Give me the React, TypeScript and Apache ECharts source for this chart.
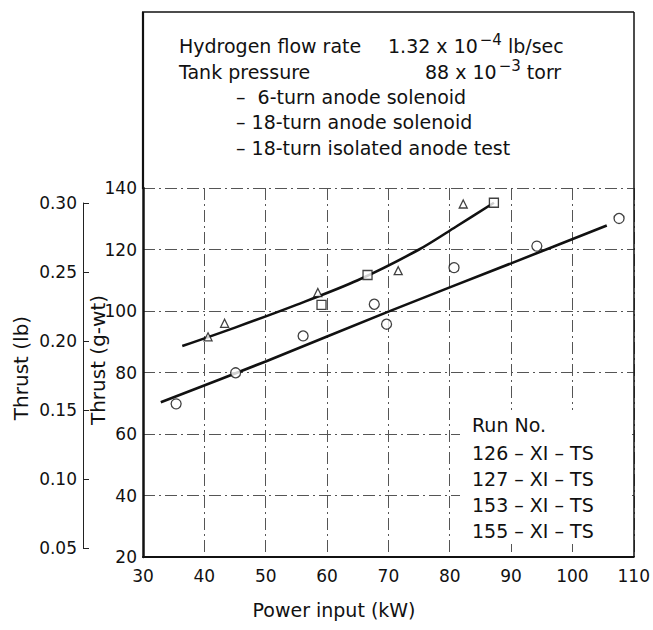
import React, { useEffect, useRef } from 'react';
import * as echarts from 'echarts';

// Axis tick values
const xTicksMin = 30;
const xTicksMax = 110;
const gwtMin = 20;
const gwtMax = 140;
const lbMin = 0.05;
const lbMax = 0.3;

// Measured points (power kW, thrust g-wt)
const circleX = [35.4, 45.1, 56.1, 67.7, 69.7, 80.7, 94.2, 107.6];
const circleY = [69.8, 79.9, 91.9, 102.2, 95.7, 114.1, 121.1, 130.1];
const triangleX = [40.6, 43.3, 58.5, 71.6, 82.2];
const triangleY = [91.6, 96.0, 106.0, 113.1, 134.8];
const squareX = [59.1, 66.6, 87.2];
const squareY = [102.0, 111.7, 135.2];

// Faired curves
const upperCurveX = [36.4, 45, 55, 65, 75, 81, 87.2];
const upperCurveY = [88.6, 94.6, 102.0, 110.0, 120.0, 127.4, 135.2];
const lowerCurveX = [32.9, 50, 70, 90, 105.6];
const lowerCurveY = [70.3, 83.6, 99.8, 115.5, 127.8];

const seriesNames = ['6-turn anode solenoid', '18-turn anode solenoid', '18-turn isolated anode test'];
const runNumbers = ['126 – XI – TS', '127 – XI – TS', '153 – XI – TS', '155 – XI – TS'];

const zip = (xs: number[], ys: number[]) => xs.map((x, i) => [x, ys[i]]);

export default function App() {
  const ref = useRef<HTMLDivElement>(null);
  useEffect(() => {
    document.body.style.margin = '0';
    const chart = echarts.init(ref.current!, null, { renderer: 'svg' });
    const font = 'DejaVu Sans';
    const ink = '#111';
    const noteSize = 19;
    const gridLine = { show: true, lineStyle: { color: '#555', width: 1, type: [12, 4, 2, 4] } };
    const txt = (x: number, y: number, text: string, size = noteSize, extra: any = {}) => ({
      type: 'text',
      x,
      y,
      z: 20,
      style: {
        text,
        fill: ink,
        font: `${size}px "${font}"`,
        fontFamily: font,
        fontSize: size,
        textVerticalAlign: 'middle',
        verticalAlign: 'middle',
        ...extra,
      },
    });
    const sup = {
      rich: {
        a: { fontFamily: font, fontSize: noteSize, lineHeight: 28, color: ink },
        s: { fontFamily: font, fontSize: 15, lineHeight: 15, verticalAlign: 'top', color: ink, padding: [0, 0, 0, 2] },
      },
    };
    chart.setOption({
      animation: false,
      backgroundColor: '#fff',
      textStyle: { fontFamily: font, color: ink },
      grid: [
        { left: 143, right: 19, top: 188, bottom: 73 },
        { left: 83, width: 10, top: 203, bottom: 82 },
      ],
      xAxis: [
        {
          gridIndex: 0,
          type: 'value',
          min: xTicksMin,
          max: xTicksMax,
          interval: 10,
          axisLine: { show: true, lineStyle: { color: ink, width: 2 } },
          axisTick: { show: false },
          splitLine: gridLine,
          axisLabel: { fontSize: 17, color: ink, margin: 10, fontFamily: font },
          z: 5,
        },
        { gridIndex: 1, type: 'value', show: false, min: 0, max: 1 },
      ],
      yAxis: [
        {
          gridIndex: 0,
          type: 'value',
          min: gwtMin,
          max: gwtMax,
          interval: 20,
          axisLine: { show: true, lineStyle: { color: ink, width: 2.5 } },
          axisTick: { show: false },
          splitLine: gridLine,
          axisLabel: { fontSize: 17, color: ink, margin: 6, fontFamily: font },
          z: 5,
        },
        {
          gridIndex: 1,
          type: 'value',
          min: lbMin,
          max: lbMax,
          interval: 0.05,
          axisLine: { show: true, lineStyle: { color: '#222', width: 1 } },
          axisTick: { show: true, inside: true, length: 6, lineStyle: { color: '#222' } },
          splitLine: { show: false },
          axisLabel: { fontSize: 17, color: ink, margin: 6, fontFamily: font, formatter: (v: number) => v.toFixed(2) },
        },
      ],
      series: [
        {
          name: 'upper fairing',
          type: 'line',
          data: zip(upperCurveX, upperCurveY),
          smooth: 0.3,
          showSymbol: false,
          lineStyle: { color: ink, width: 2.6 },
          silent: true,
          z: 30,
        },
        {
          name: 'lower fairing',
          type: 'line',
          data: zip(lowerCurveX, lowerCurveY),
          smooth: 0.3,
          showSymbol: false,
          lineStyle: { color: ink, width: 2.6 },
          silent: true,
          z: 30,
        },
        {
          name: seriesNames[0],
          type: 'scatter',
          data: zip(circleX, circleY),
          symbol: 'circle',
          symbolSize: 10,
          itemStyle: { color: '#fff', borderColor: ink, borderWidth: 1.3 },
          z: 31,
        },
        {
          name: seriesNames[1],
          type: 'scatter',
          data: zip(triangleX, triangleY),
          symbol: 'triangle',
          symbolSize: 8,
          itemStyle: { color: '#fff', borderColor: ink, borderWidth: 1.3 },
          z: 31,
        },
        {
          name: seriesNames[2],
          type: 'scatter',
          data: zip(squareX, squareY),
          symbol: 'rect',
          symbolSize: 9,
          itemStyle: { color: '#fff', borderColor: ink, borderWidth: 1.3 },
          z: 31,
        },
      ],
      graphic: [
        // frame above the data region
        { type: 'line', z: 20, shape: { x1: 143, y1: 12, x2: 143, y2: 189 }, style: { stroke: ink, lineWidth: 2.2 } },
        { type: 'line', z: 20, shape: { x1: 142, y1: 12, x2: 634, y2: 12 }, style: { stroke: ink, lineWidth: 1.5 } },
        { type: 'line', z: 20, shape: { x1: 634, y1: 12, x2: 634, y2: 557 }, style: { stroke: ink, lineWidth: 1.5 } },
        // cleared panel behind run numbers
        { type: 'rect', z: 15, shape: { x: 460, y: 410, width: 172, height: 134 }, style: { fill: '#fff' } },
        // axis titles
        { ...txt(21, 368, 'Thrust (lb)', 20, { textAlign: 'center', align: 'center' }), rotation: Math.PI / 2 },
        { ...txt(98, 360, 'Thrust (g-wt)', 20, { textAlign: 'center', align: 'center' }), rotation: Math.PI / 2 },
        txt(334, 610, 'Power input (kW)', 19, { textAlign: 'center', align: 'center' }),
        // condition notes
        txt(179, 46, 'Hydrogen flow rate'),
        txt(388, 46, '{a|1.32 x 10}{s|−4}{a| lb/sec}', noteSize, sup),
        txt(179, 72, 'Tank pressure'),
        txt(425, 72, '{a|88 x 10}{s|−3}{a| torr}', noteSize, sup),
        txt(236, 97, '–  ' + seriesNames[0]),
        txt(236, 122, '– ' + seriesNames[1]),
        txt(236, 148, '– ' + seriesNames[2]),
        // run numbers
        txt(472, 425, 'Run No.'),
        ...runNumbers.map((r, i) => txt(472, 453 + i * 26, r)),
      ],
    });
    return () => chart.dispose();
  }, []);
  return <div ref={ref} style={{ width: 653, height: 630 }} />;
}
